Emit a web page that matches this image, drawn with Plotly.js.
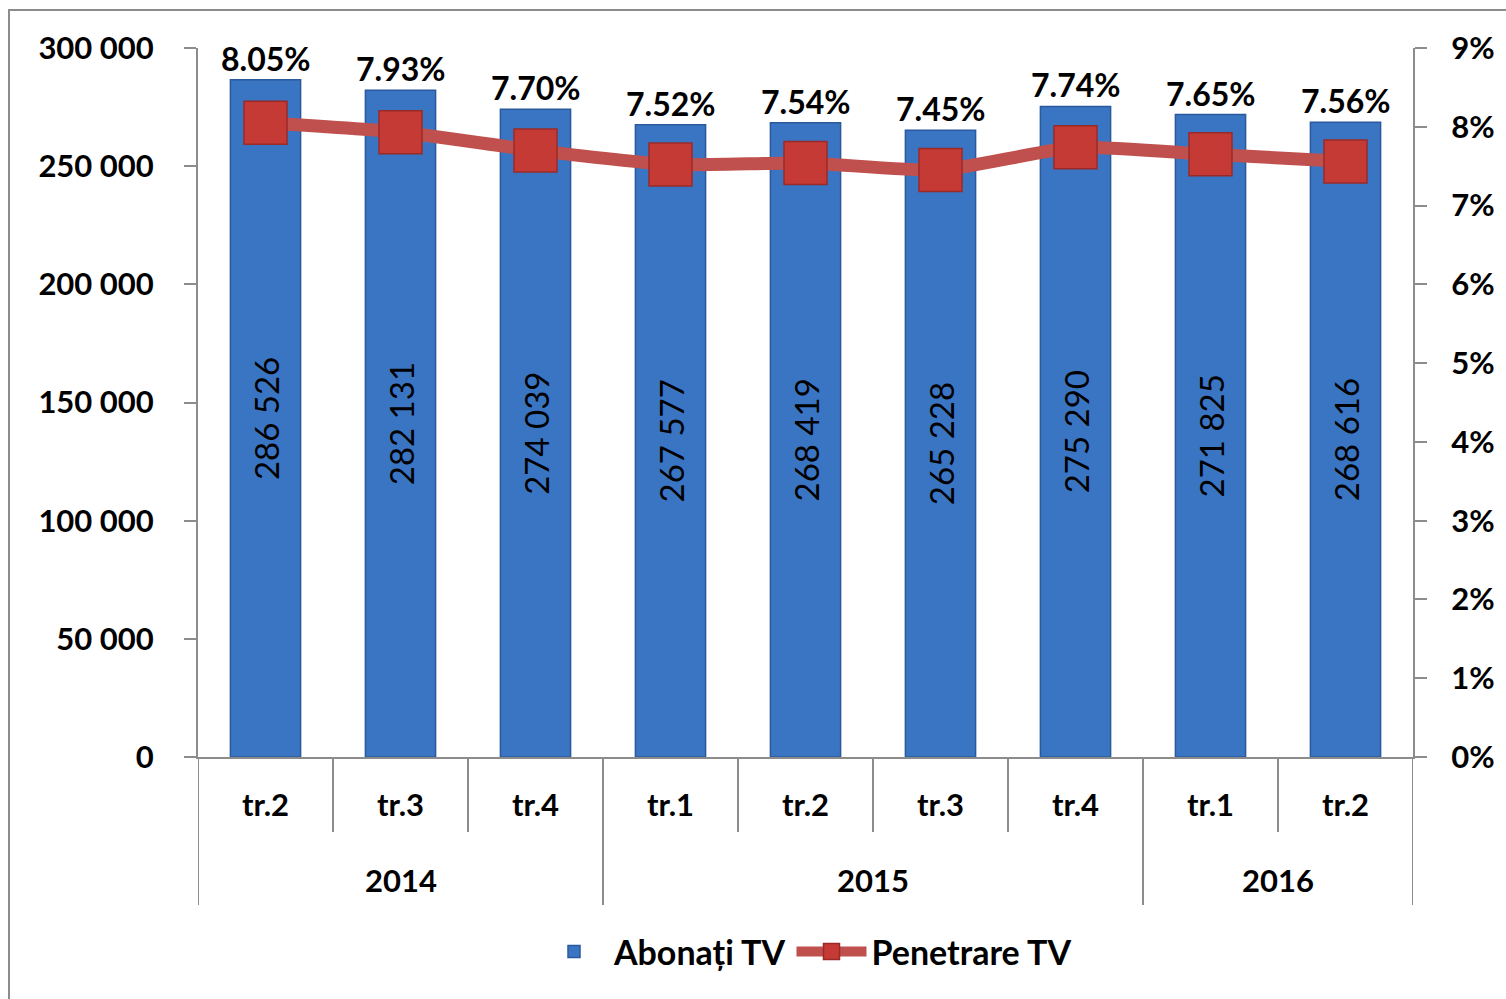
<!DOCTYPE html>
<html>
<head>
<meta charset="utf-8">
<script src="https://cdn.plot.ly/plotly-3.0.1.min.js"></script>
<style>
html,body{margin:0;padding:0;background:#fff;}
#chart{width:1506px;height:999px;}
</style>
</head>
<body>
<div id="chart"></div>
<script>
const years = ["2014","2014","2014","2015","2015","2015","2015","2016","2016"];
const quarters = ["tr.2","tr.3","tr.4","tr.1","tr.2","tr.3","tr.4","tr.1","tr.2"];
const subscribers = [286526, 282131, 274039, 267577, 268419, 265228, 275290, 271825, 268616];
const penetration = [8.05, 7.93, 7.70, 7.52, 7.54, 7.45, 7.74, 7.65, 7.56];
const leftTicks = [0, 50000, 100000, 150000, 200000, 250000, 300000];
const rightTicks = [0, 1, 2, 3, 4, 5, 6, 7, 8, 9];

const FONT = "Lato, 'Open Sans', sans-serif";
const GRAY = "#8C8C8C";
const xcats = years.map((y, i) => y + " " + quarters[i]);

// pixel -> paper helpers for decorations
const L = 198, R = 93, T = 48, B = 242, W = 1506, H = 999;
const pw = W - L - R, ph = H - T - B;
const px = v => (v - L) / pw;
const py = v => (H - B - v) / ph;

const bars = {
  type: "bar",
  name: "Abonați TV",
  x: xcats,
  y: subscribers,
  yaxis: "y",
  marker: {color: "#3A75C4", line: {color: "#2B5A9C", width: 1.5}},
  texttemplate: "%{y:,d}",
  textposition: "inside",
  insidetextanchor: "middle",
  textangle: -90,
  textfont: {family: FONT, size: 33, color: "#000"},
  hoverinfo: "skip"
};

const line = {
  type: "scatter",
  mode: "lines+markers",
  name: "Penetrare TV",
  x: xcats,
  y: penetration,
  yaxis: "y2",
  line: {color: "#C0504D", width: 13, shape: "spline", smoothing: 0.5},
  marker: {symbol: "square", size: 43, color: "#C63A35", line: {color: "#9A2A27", width: 1.5}},
  hoverinfo: "skip"
};

const annotations = subscribers.map((v, i) => ({
  x: xcats[i], y: v, xref: "x", yref: "y",
  text: penetration[i].toFixed(2) + "%",
  showarrow: false, yanchor: "bottom",
  font: {family: FONT, size: 32, color: "#000", weight: "bold"}
}));

// year group labels and dividers
const shapes = [];
const groups = [];
years.forEach((y, i) => {
  if (i === 0 || years[i - 1] !== y) groups.push({year: y, start: i, end: i});
  else groups[groups.length - 1].end = i;
});
groups.forEach(g => {
  annotations.push({
    x: (g.start + g.end) / 2, y: py(880), xref: "x", yref: "paper",
    text: g.year, showarrow: false, yanchor: "middle",
    font: {family: FONT, size: 31, color: "#000", weight: "bold"}
  });
});
for (let i = 0; i <= years.length; i++) {
  const groupEdge = i === 0 || i === years.length || years[i] !== years[i - 1];
  shapes.push({
    type: "line", xref: "x", yref: "paper",
    x0: i - 0.5, x1: i - 0.5, y0: 0, y1: groupEdge ? py(905) : py(832),
    line: {color: GRAY, width: 2}
  });
}
shapes.push({
  type: "rect", xref: "paper", yref: "paper",
  x0: px(9), x1: px(1530), y0: py(1030), y1: py(10),
  line: {color: GRAY, width: 2}, fillcolor: "rgba(0,0,0,0)", layer: "below"
});

const layout = {
  width: W, height: H,
  margin: {l: L, r: R, t: T, b: B},
  paper_bgcolor: "#fff",
  plot_bgcolor: "#fff",
  separators: ". ",
  showlegend: true,
  bargap: 0.48,
  font: {family: FONT, color: "#000"},
  xaxis: {
    type: "category",
    range: [-0.5, xcats.length - 0.5],
    tickvals: xcats,
    ticktext: quarters,
    showline: true, linecolor: GRAY, linewidth: 2,
    ticks: "",
    ticklabelstandoff: 20,
    tickfont: {family: FONT, size: 31, color: "#000", weight: "bold"},
    showgrid: false, zeroline: false
  },
  yaxis: {
    range: [0, 300000],
    tickvals: leftTicks,
    tickformat: ",d",
    showline: true, linecolor: GRAY, linewidth: 2,
    ticks: "outside", ticklen: 12, tickcolor: GRAY, tickwidth: 2,
    ticklabelstandoff: 24,
    tickfont: {family: FONT, size: 31, color: "#000", weight: "bold"},
    showgrid: false, zeroline: false
  },
  yaxis2: {
    overlaying: "y", side: "right",
    range: [0, 9],
    tickvals: rightTicks,
    ticktext: rightTicks.map(v => v + "%"),
    showline: true, linecolor: GRAY, linewidth: 2,
    ticks: "outside", ticklen: 12, tickcolor: GRAY, tickwidth: 2,
    ticklabelstandoff: 18,
    tickfont: {family: FONT, size: 31, color: "#000", weight: "bold"},
    showgrid: false, zeroline: false
  },
  legend: {
    orientation: "h", x: 0.5, xanchor: "center", y: py(952), yanchor: "middle",
    font: {family: FONT, size: 34, color: "#000", weight: "bold"},
    itemwidth: 70,
    traceorder: "normal"
  },
  annotations: annotations,
  shapes: shapes
};

Plotly.newPlot("chart", [bars, line], layout, {displayModeBar: false, staticPlot: true});
</script>
</body>
</html>
